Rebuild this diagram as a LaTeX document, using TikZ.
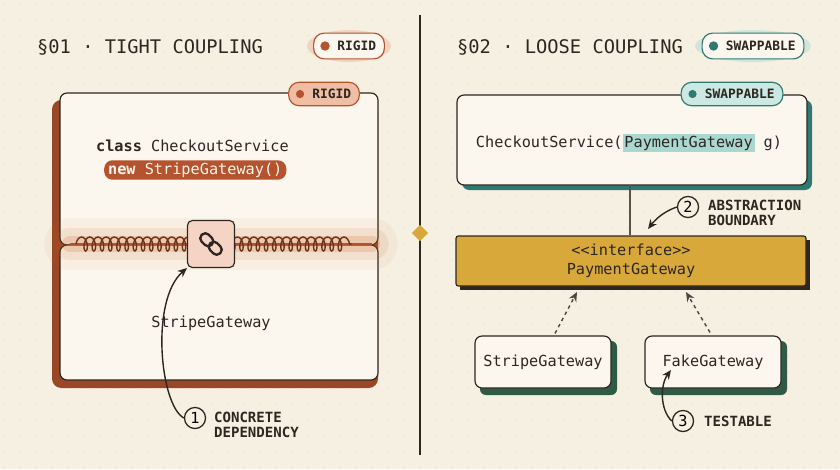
\documentclass[tikz,border=0pt]{standalone}
\usepackage{fontspec}
\setmainfont[Ligatures=ResetAll]{DejaVu Sans Mono}
\setmonofont{DejaVu Sans Mono}
\usepackage{tikz}
\usetikzlibrary{positioning,arrows.meta,decorations.pathmorphing,shapes.geometric}
\definecolor{paper}{HTML}{F6F0E3}
\definecolor{ink}{HTML}{2E2620}
\definecolor{rust}{HTML}{B5532E}
\definecolor{rustlt}{HTML}{E9A07E}
\definecolor{teal}{HTML}{2E7A72}
\definecolor{teallt}{HTML}{A9D8D0}
\definecolor{pine}{HTML}{2F5B46}
\definecolor{gold}{HTML}{D8A93A}
\definecolor{card}{HTML}{FBF7EE}
\newcommand{\lt}{\char"3C\kern0pt\relax}
\newcommand{\gt}{\char"3E\kern0pt\relax}
\tikzset{
  title/.style={font=\fontsize{16}{18}\selectfont, text=ink, anchor=west},
  code/.style={font=\fontsize{13}{16}\selectfont, text=ink},
  note/.style={font=\bfseries\fontsize{12}{13}\selectfont, text=ink, anchor=west, align=left},
  num/.style={circle, draw=ink, line width=1.1pt, inner sep=1pt, minimum size=18pt, font=\fontsize{13}{13}\selectfont},
  pill/.style={rounded corners=9pt, line width=1pt, minimum height=22pt, inner xsep=7pt, font=\bfseries\fontsize{11}{12}\selectfont, text=ink},
  card/.style={draw=ink, line width=1pt, fill=card, rounded corners=6pt},
  hand/.style={-{Stealth[length=8pt,width=7pt]}, line width=1.2pt, draw=ink},
}
\begin{document}
\begin{tikzpicture}[x=0.03cm,y=-0.03cm]
\fill[paper] (0,0) rectangle (840,469);
\useasboundingbox (0,0) rectangle (840,469);
% dot grid
\foreach \i in {0,...,52} \foreach \j in {0,...,29}
  \fill[ink!18] (\i*16+4,\j*16+4) circle (0.5pt);
% divider
\draw[ink, line width=1.2pt] (420,15) -- (420,455);
\node[diamond, fill=gold, minimum size=14pt, inner sep=0pt] (mid) at (420,233) {};

% ---- left panel: tight coupling
\node[title] (ttl1) at (33,47) {§01 · TIGHT COUPLING};
\fill[rustlt, opacity=.35] (349,46) ellipse (42 and 16);
\node[pill, draw=rust, fill=card] (pillA) at (349,46) {\phantom{\textbullet}\ RIGID};
\fill[rust] (pillA.west) ++(12,0) circle (4pt);
% box with heavy shadow
\fill[rust!85!black, rounded corners=8pt] (52,100) rectangle (378,388);
\draw[card] (60,93) rectangle (378,245);
\draw[card] (60,245) rectangle (378,380);
\node[pill, draw=rust, fill=rustlt!70, minimum height=20pt] (tagA) at (324,94) {\phantom{\textbullet}\ RIGID};
\fill[rust] (tagA.west) ++(12,0) circle (3.5pt);
\node[code, anchor=west] (cls) at (92,146) {\textbf{class} CheckoutService};
\node[code, anchor=west, fill=rust, text=card, rounded corners=7pt, inner ysep=2pt] (newS) at (104,170) {\textbf{new} StripeGateway()};
% seam
\foreach \w/\o in {44/.06,28/.1,14/.18}
  \draw[rust!70!orange, line width=\w pt, opacity=\o, line cap=round] (70,244) -- (372,244);
\draw[rust, line width=2pt] (70,244) -- (372,244);
\draw[rust!60!black, line width=1.2pt, decorate,
  decoration={coil, segment length=7pt, amplitude=6pt}] (76,244) -- (352,244);
\node[draw=ink, fill=rustlt!45, line width=1pt, rounded corners=4pt, minimum size=40pt] (link) at (211,244) {};
\begin{scope}[shift={(211,244)}, rotate=-45, line width=2pt, ink]
  \draw[rounded corners=4pt] (-13,-5) rectangle (1,5);
  \draw[rounded corners=4pt] (-1,-5) rectangle (13,5);
\end{scope}
\node[code] (stripeL) at (211,323) {StripeGateway};
\node[num] (n1) at (195,418) {1};
\node[note] (lab1) at (210,425) {CONCRETE\\DEPENDENCY};
\draw[hand] (n1.west) .. controls (160,405) and (150,300) .. (link.south west);

% ---- right panel: loose coupling
\node[title] (ttl2) at (453,47) {§02 · LOOSE COUPLING};
\fill[teallt, opacity=.45] (753,46) ellipse (58 and 16);
\node[pill, draw=teal, fill=card] (pillB) at (753,46) {\phantom{\textbullet}\ SWAPPABLE};
\fill[teal] (pillB.west) ++(12,0) circle (4pt);
\fill[teal, rounded corners=6pt] (462,100) rectangle (812,190);
\draw[card] (457,95) rectangle (807,185);
\node[pill, draw=teal, fill=teallt!60, minimum height=20pt] (tagB) at (732,94) {\phantom{\textbullet}\ SWAPPABLE};
\fill[teal] (tagB.west) ++(12,0) circle (3.5pt);
\node[code, inner sep=0pt] (svc) at (629,143) {CheckoutService(\setlength{\fboxsep}{1.5pt}\colorbox{teallt}{PaymentGateway} g)};
\coordinate (svcB) at (630,185);
\fill[ink] (460,240) rectangle (810,290);
\node[draw=ink, fill=gold, line width=1pt, rounded corners=2pt, code, align=center,
  minimum width=350*0.03cm, minimum height=50*0.03cm] (iface) at (631,261) {\lt\lt interface\gt\gt\\PaymentGateway};
\draw[ink!80, line width=1pt] (svcB) -- (svcB |- iface.north);
\node[num] (n2) at (688,207) {2};
\node[note] (lab2) at (704,213) {ABSTRACTION\\BOUNDARY};
\draw[hand] (n2.west) .. controls (668,210) and (658,216) .. (648,229);
% implementations
\fill[pine, rounded corners=5pt] (480,341) rectangle (617,395);
\fill[pine, rounded corners=5pt] (650,341) rectangle (787,395);
\node[card, code, minimum width=136*0.03cm, minimum height=52*0.03cm] (stripeR) at (543,362) {StripeGateway};
\node[card, code, minimum width=136*0.03cm, minimum height=52*0.03cm] (fake) at (713,362) {FakeGateway};
\draw[hand, dashed, ink!85] (stripeR.north) ++(12,-2) -- (577,292);
\draw[hand, dashed, ink!85] (fake.north) ++(-3,-3) -- (686,292);
\node[num] (n3) at (683,421) {3};
\node[note] (lab3) at (700,421) {TESTABLE};
\draw[hand] (n3.west) .. controls (660,410) and (660,385) .. (671,370);
\end{tikzpicture}
\end{document}
